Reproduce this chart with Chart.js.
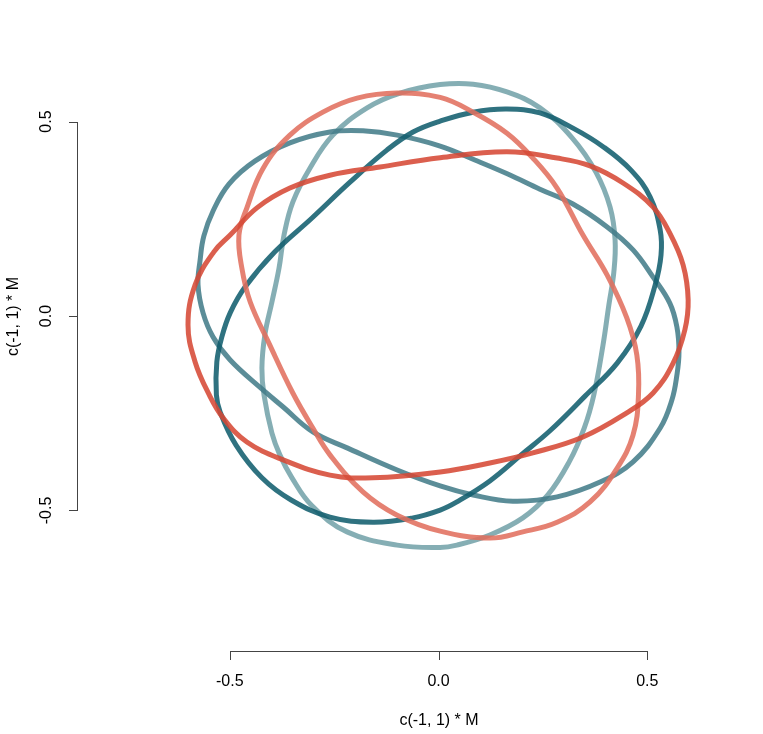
<!DOCTYPE html>
<html><head><meta charset="utf-8">
<script src="https://cdn.jsdelivr.net/npm/chart.js@4/dist/chart.umd.min.js"></script>
<style>html,body{margin:0;padding:0;background:#fff;}canvas{display:block;}</style>
</head><body>
<canvas id="c" width="763" height="734"></canvas>
<script>
const xLabel = 'c(-1, 1) * M';
const yLabel = 'c(-1, 1) * M';
const xTicks = [-0.5, 0, 0.5];
const yTicks = [-0.5, 0, 0.5];

const redX = [-0.600,-0.583,-0.538,-0.499,-0.435,-0.356,-0.260,-0.140,0.004,0.164,0.284,0.363,0.442,0.514,0.554,0.586,0.598,0.590,0.562,0.514,0.451,0.346,0.226,0.123,0.004,-0.157,-0.260,-0.372,-0.459,-0.516,-0.550,-0.583];
const redY = [-0.023,0.080,0.165,0.208,0.278,0.329,0.362,0.383,0.407,0.422,0.406,0.386,0.342,0.280,0.213,0.131,0.041,-0.036,-0.121,-0.198,-0.249,-0.311,-0.352,-0.378,-0.401,-0.416,-0.409,-0.370,-0.324,-0.262,-0.201,-0.118];

const salmonX = [-0.478,-0.471,-0.451,-0.404,-0.349,-0.301,-0.260,-0.181,-0.099,0.004,0.123,0.202,0.284,0.363,0.428,0.466,0.479,0.475,0.451,0.404,0.346,0.284,0.226,0.164,0.083,0.004,-0.099,-0.195,-0.277,-0.356,-0.420,-0.459];
const salmonY = [0.208,0.123,0.036,-0.075,-0.198,-0.288,-0.357,-0.452,-0.512,-0.553,-0.571,-0.555,-0.530,-0.478,-0.391,-0.306,-0.203,-0.100,-0.005,0.105,0.208,0.329,0.406,0.470,0.524,0.562,0.573,0.560,0.524,0.465,0.380,0.278];

const darkX = [-0.303,-0.212,-0.123,-0.061,0.004,0.083,0.164,0.243,0.322,0.396,0.461,0.507,0.531,0.533,0.519,0.485,0.428,0.351,0.269,0.198,0.123,0.044,0.004,-0.061,-0.157,-0.260,-0.353,-0.423,-0.485,-0.523,-0.532,-0.531,-0.519,-0.499,-0.463,-0.392];
const darkY = [0.252,0.344,0.427,0.473,0.501,0.524,0.532,0.522,0.483,0.434,0.375,0.306,0.221,0.157,0.080,-0.026,-0.121,-0.206,-0.293,-0.357,-0.424,-0.478,-0.499,-0.519,-0.530,-0.517,-0.473,-0.416,-0.332,-0.247,-0.203,-0.118,-0.054,0.008,0.075,0.165];

const mediumX = [-0.562,-0.540,-0.502,-0.440,-0.356,-0.260,-0.181,-0.099,0.004,0.087,0.166,0.243,0.322,0.404,0.466,0.514,0.554,0.571,0.576,0.571,0.559,0.531,0.466,0.387,0.284,0.178,0.083,0.004,-0.099,-0.219,-0.301,-0.372,-0.428,-0.499,-0.540,-0.564,-0.576,-0.571];
const mediumY = [0.206,0.270,0.339,0.398,0.445,0.473,0.476,0.465,0.437,0.401,0.365,0.326,0.288,0.229,0.170,0.100,0.033,-0.028,-0.093,-0.152,-0.216,-0.288,-0.375,-0.427,-0.465,-0.476,-0.460,-0.437,-0.396,-0.339,-0.298,-0.234,-0.183,-0.113,-0.054,0.008,0.080,0.144];

const lightX = [-0.370,-0.349,-0.308,-0.253,-0.171,-0.092,0.004,0.083,0.164,0.243,0.320,0.377,0.411,0.423,0.420,0.408,0.394,0.372,0.349,0.313,0.262,0.202,0.123,0.044,0.004,-0.099,-0.219,-0.303,-0.351,-0.380,-0.399,-0.418,-0.423,-0.416,-0.399,-0.382];
const lightY = [0.208,0.293,0.380,0.465,0.535,0.573,0.595,0.596,0.576,0.535,0.458,0.370,0.280,0.195,0.113,0.028,-0.075,-0.203,-0.288,-0.375,-0.460,-0.519,-0.563,-0.589,-0.595,-0.589,-0.555,-0.488,-0.416,-0.357,-0.301,-0.203,-0.134,-0.049,0.036,0.123];

const curves = [
  {x: redX, y: redY, color: 'rgba(214,73,53,0.88)'},
  {x: salmonX, y: salmonY, color: 'rgba(225,111,95,0.88)'},
  {x: darkX, y: darkY, color: 'rgba(18,94,110,0.88)'},
  {x: mediumX, y: mediumY, color: 'rgba(68,125,138,0.88)'},
  {x: lightX, y: lightY, color: 'rgba(116,163,170,0.88)'}
];

// closed loop: [last, p0..pn-1, p0, p1]; first and last segments are hidden (only for smooth closure)
function loopData(xs, ys) {
  const n = xs.length;
  const pts = [{x: xs[n-1], y: ys[n-1]}];
  for (let i = 0; i < n; i++) pts.push({x: xs[i], y: ys[i]});
  pts.push({x: xs[0], y: ys[0]});
  pts.push({x: xs[1], y: ys[1]});
  return pts;
}

const datasets = curves.map(c => {
  const n = c.x.length;
  return {
    data: loopData(c.x, c.y),
    showLine: true,
    borderColor: c.color,
    borderWidth: 5,
    pointRadius: 0,
    tension: 0.4,
    fill: false,
    borderCapStyle: 'butt',
    borderJoinStyle: 'round',
    segment: {
      borderColor: ctx => (ctx.p0DataIndex === 0 || ctx.p0DataIndex === n + 1) ? 'rgba(0,0,0,0)' : c.color
    }
  };
});

const rAxes = {
  id: 'rAxes',
  afterDraw(chart) {
    const ctx = chart.ctx, xs = chart.scales.x, ys = chart.scales.y;
    const y0 = Math.round(ys.getPixelForValue(ys.min));
    const x0 = Math.round(xs.getPixelForValue(xs.min));
    ctx.save();
    ctx.strokeStyle = '#444';
    ctx.lineWidth = 1;
    ctx.fillStyle = '#000';
    ctx.font = '16px "Liberation Sans", Arial, sans-serif';
    const xa = Math.round(xs.getPixelForValue(xTicks[0])) + 0.5;
    const xb = Math.round(xs.getPixelForValue(xTicks[xTicks.length - 1])) + 0.5;
    ctx.beginPath();
    ctx.moveTo(xa, y0 + 0.5); ctx.lineTo(xb, y0 + 0.5);
    xTicks.forEach(v => { const p = Math.round(xs.getPixelForValue(v)) + 0.5; ctx.moveTo(p, y0); ctx.lineTo(p, y0 + 9); });
    const ya = Math.round(ys.getPixelForValue(yTicks[0])) + 0.5;
    const yb = Math.round(ys.getPixelForValue(yTicks[yTicks.length - 1])) + 0.5;
    ctx.moveTo(x0 + 0.5, ya); ctx.lineTo(x0 + 0.5, yb);
    yTicks.forEach(v => { const p = Math.round(ys.getPixelForValue(v)) + 0.5; ctx.moveTo(x0 + 1, p); ctx.lineTo(x0 - 8, p); });
    ctx.stroke();
    ctx.textAlign = 'center';
    ctx.textBaseline = 'middle';
    xTicks.forEach(v => ctx.fillText(v.toFixed(1), xs.getPixelForValue(v), y0 + 31));
    ctx.fillText(xLabel, (xa + xb) / 2, y0 + 70);
    yTicks.forEach(v => {
      ctx.save();
      ctx.translate(x0 - 30, ys.getPixelForValue(v));
      ctx.rotate(-Math.PI / 2);
      ctx.fillText(v.toFixed(1), 0, 0);
      ctx.restore();
    });
    ctx.save();
    ctx.translate(x0 - 63, (ya + yb) / 2);
    ctx.rotate(-Math.PI / 2);
    ctx.fillText(yLabel, 0, 0);
    ctx.restore();
    ctx.restore();
  }
};

new Chart(document.getElementById('c'), {
  type: 'scatter',
  data: { datasets },
  options: {
    responsive: false,
    animation: false,
    layout: { padding: { left: 77, right: 30, top: 59, bottom: 83 } },
    plugins: { legend: { display: false }, tooltip: { enabled: false } },
    scales: {
      x: { type: 'linear', display: false, min: -0.8659, max: 0.7054 },
      y: { type: 'linear', display: false, min: -0.8612, max: 0.6607 }
    }
  },
  plugins: [rAxes]
});
</script>
</body></html>
